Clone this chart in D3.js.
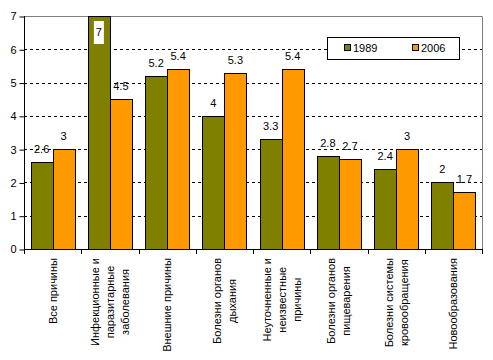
<!DOCTYPE html>
<html><head><meta charset="utf-8">
<script src="https://cdn.jsdelivr.net/npm/d3@7/dist/d3.min.js"></script>
<style>
body{margin:0;background:#fff;}
svg text{font-family:"Liberation Sans",Arial,sans-serif;font-size:11px;fill:#000;}
</style></head><body>
<svg id="c" width="493" height="360"></svg>
<script>
const categories = [
  ["Все причины"],
  ["Инфекционные и","паразитарные","заболевания"],
  ["Внешние причины"],
  ["Болезни органов","дыхания"],
  ["Неуточненные и","неизвестные","причины"],
  ["Болезни органов","пищеварения"],
  ["Болезни системы","кровообращения"],
  ["Новообразования"]
];
const series = ["1989","2006"];
const values1989 = [2.6, 7, 5.2, 4, 3.3, 2.8, 2.4, 2];
const values2006 = [3, 4.5, 5.4, 5.3, 5.4, 2.7, 3, 1.7];
const yTicks = [0,1,2,3,4,5,6,7];
const colors = ["#808000","#FF9900"];

const svg = d3.select("#c");
const L = 24, R = 482, T = 16, B = 249;
const idx = d3.range(categories.length);
const x = d3.scaleBand().domain(idx).range([L, R]).paddingInner(0.231).paddingOuter(0.1155);
const xs = d3.scaleBand().domain(series).range([0, x.bandwidth()]);
const y = d3.scaleLinear().domain([0,7]).range([B, T]);
const seriesVals = [values1989, values2006];

// grid
svg.append("g").selectAll("line").data(yTicks.filter(d=>d>0&&d<7)).join("line")
  .attr("x1", L).attr("x2", R)
  .attr("y1", d=>Math.round(y(d))+0.5).attr("y2", d=>Math.round(y(d))+0.5)
  .attr("stroke","#000").attr("stroke-dasharray","3,3");
// top & right border
svg.append("path").attr("d",`M${L},${T+0.5}H${R+0.5}V${B}`).attr("fill","none").attr("stroke","#808080");

// bars
series.forEach((s,si)=>{
  svg.append("g").selectAll("rect").data(seriesVals[si]).join("rect")
    .attr("x",(d,i)=>Math.round(x(i)+xs(s))+0.5)
    .attr("y",d=>Math.round(y(d))+0.5)
    .attr("width",Math.round(xs.bandwidth()))
    .attr("height",d=>Math.round(B)-Math.round(y(d)))
    .attr("fill",colors[si]).attr("stroke","#000").attr("stroke-width",1);
});

// value labels
series.forEach((s,si)=>{
  seriesVals[si].forEach((v,i)=>{
    const cx = x(i)+xs(s)+xs.bandwidth()/2;
    let by = y(v)-9;
    if (by-9 < T) {
      svg.append("rect").attr("x",cx-5).attr("y",T+5).attr("width",10).attr("height",23).attr("fill","#fff");
      by = T+20;
    }
    svg.append("text").attr("x",cx).attr("y",by).attr("text-anchor","middle").text(String(v));
  });
});

// y axis
const yAxis = svg.append("g").attr("transform",`translate(${L+0.5},0)`)
  .call(d3.axisLeft(y).tickValues(yTicks).tickSize(5).tickPadding(3).tickFormat(d3.format("d")));
yAxis.select(".domain").remove();
yAxis.selectAll("line").attr("stroke","#000").attr("transform","translate(0,0.5)");
yAxis.selectAll("text").style("font-size","11px").attr("dy","0.35em");
svg.append("line").attr("x1",L+0.5).attr("x2",L+0.5).attr("y1",T).attr("y2",B+1).attr("stroke","#000");

// x axis
svg.append("line").attr("x1",L).attr("x2",R+1).attr("y1",B+0.5).attr("y2",B+0.5).attr("stroke","#000");
const step = x.step();
const bounds = d3.range(categories.length+1).map(i=>L+i*(R-L)/categories.length);
svg.append("g").selectAll("line").data(bounds).join("line")
  .attr("x1",d=>Math.round(d)+0.5).attr("x2",d=>Math.round(d)+0.5)
  .attr("y1",B).attr("y2",B+5).attr("stroke","#000");

// x labels (rotated, multi-line, centered lines, block top-aligned)
const lh = 15;
categories.forEach((lines,i)=>{
  const cx = x(i)+x.bandwidth()/2;
  const g = svg.append("g");
  const texts = lines.map((ln,k)=>g.append("text").attr("text-anchor","middle").text(ln));
  const w = d3.max(texts, t=>t.node().getComputedTextLength());
  const cy = 258 + w/2;
  const n = lines.length;
  texts.forEach((t,k)=>{
    const lx = cx + (k-(n-1)/2)*lh + 4;
    t.attr("transform",`translate(${lx},${cy}) rotate(-90)`);
  });
});

// legend
const lg = svg.append("g");
lg.append("rect").attr("x",327.5).attr("y",37.5).attr("width",132).attr("height",22).attr("fill","#fff").attr("stroke","#000");
const lx = [344, 412];
series.forEach((s,si)=>{
  lg.append("rect").attr("x",lx[si]+0.5).attr("y",44.5).attr("width",6).attr("height",6).attr("fill",colors[si]).attr("stroke","#000");
  lg.append("text").attr("x",lx[si]+9).attr("y",52).text(s);
});
</script></body></html>
